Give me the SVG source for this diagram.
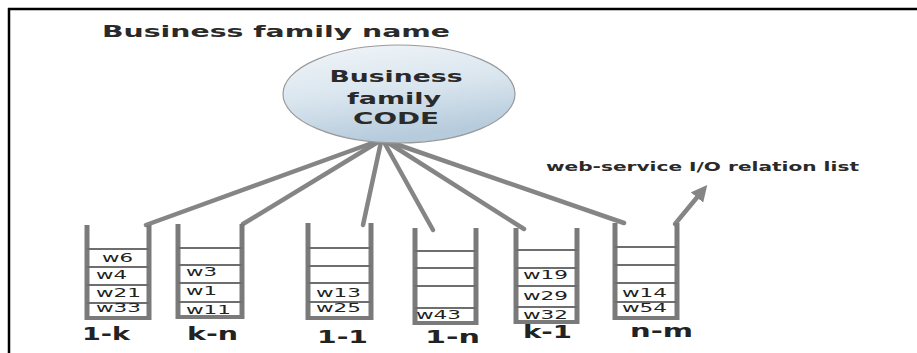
<svg xmlns="http://www.w3.org/2000/svg" width="917" height="353" viewBox="0 0 917 353">
  <style>
    .frame { stroke: #000; stroke-width: 2.5; fill: none; }
    .title { font-family: "DejaVu Sans", Verdana, sans-serif; font-weight: bold; font-size: 16.5px; fill: #2a2a2a; }
    .node-text { font-family: "DejaVu Sans", Verdana, sans-serif; font-weight: bold; font-size: 16.5px; fill: #2a2a2a; text-anchor: middle; }
    .note { font-family: "DejaVu Sans", Verdana, sans-serif; font-weight: bold; font-size: 12.5px; fill: #2a2a2a; }
    .cell { font-family: "DejaVu Sans", Verdana, sans-serif; font-size: 13px; fill: #222; }
    .kind { font-family: "DejaVu Sans", Verdana, sans-serif; font-weight: bold; font-size: 17px; fill: #222; }
    .rail { stroke: #7a7a7a; stroke-width: 5; fill: none; }
    .base { stroke: #7a7a7a; stroke-width: 4; fill: none; }
    .rung { stroke: #6e6e6e; stroke-width: 2; fill: none; }
    .link { stroke: #858585; stroke-width: 4.5; fill: none; stroke-linecap: round; }
  </style>
  <defs>
    <linearGradient id="bubble" x1="0" y1="0" x2="0.3" y2="1">
      <stop offset="0" stop-color="#f2f6f9"/>
      <stop offset="0.55" stop-color="#d9e5ee"/>
      <stop offset="1" stop-color="#b6cbdc"/>
    </linearGradient>
    <marker id="head" viewBox="0 0 10 10" refX="2" refY="5" markerWidth="3.6" markerHeight="3.6" orient="auto" markerUnits="strokeWidth">
      <path d="M0,0 L10,5 L0,10 Z" fill="#858585"/>
    </marker>
  </defs>

  <rect width="917" height="353" fill="#fff"/>

  <!-- frame: top and left edges only -->
  <line class="frame" x1="8" y1="9" x2="917" y2="9"/>
  <line class="frame" x1="9" y1="8" x2="9" y2="353"/>

  <text class="title" x="102" y="37" textLength="348" lengthAdjust="spacingAndGlyphs">Business family name</text>

  <!-- connectors from the family code to each relation list -->
  <g id="connectors">
    <line class="link" x1="375" y1="142" x2="146" y2="225"/>
    <line class="link" x1="378" y1="142" x2="243" y2="224"/>
    <line class="link" x1="381" y1="142" x2="363" y2="225"/>
    <line class="link" x1="384" y1="142" x2="433" y2="230"/>
    <line class="link" x1="387" y1="142" x2="524" y2="229"/>
    <line class="link" x1="390" y1="142" x2="624" y2="223"/>
    <line class="link" x1="675" y1="224" x2="699" y2="195" marker-end="url(#head)"/>
  </g>

  <g id="family-code">
    <ellipse cx="399" cy="94" rx="116" ry="49" fill="url(#bubble)" stroke="#9a9a9a" stroke-width="1.2"/>
    <text class="node-text" x="396" y="82" textLength="133" lengthAdjust="spacingAndGlyphs">Business</text>
    <text class="node-text" x="394" y="104" textLength="94" lengthAdjust="spacingAndGlyphs">family</text>
    <text class="node-text" x="396" y="124" textLength="86" lengthAdjust="spacingAndGlyphs">CODE</text>
  </g>

  <text class="note" x="546" y="171" textLength="313" lengthAdjust="spacingAndGlyphs">web-service I/O relation list</text>

  <!-- relation list 1-k -->
  <g id="list-1k">
    <line class="rail" x1="87" y1="225" x2="87" y2="320"/>
    <line class="rail" x1="149" y1="225" x2="149" y2="320"/>
    <line class="base" x1="85" y1="318" x2="151" y2="318"/>
    <line class="rung" x1="87" y1="249" x2="149" y2="249"/>
    <line class="rung" x1="87" y1="267" x2="149" y2="267"/>
    <line class="rung" x1="87" y1="285" x2="149" y2="285"/>
    <line class="rung" x1="87" y1="303" x2="149" y2="303"/>
    <text class="cell" x="102" y="262" textLength="31" lengthAdjust="spacingAndGlyphs">w6</text>
    <text class="cell" x="96" y="279" textLength="31" lengthAdjust="spacingAndGlyphs">w4</text>
    <text class="cell" x="96" y="297" textLength="45" lengthAdjust="spacingAndGlyphs">w21</text>
    <text class="cell" x="96" y="312" textLength="45" lengthAdjust="spacingAndGlyphs">w33</text>
    <text class="kind" x="82" y="340" textLength="48" lengthAdjust="spacingAndGlyphs">1-k</text>
  </g>

  <!-- relation list k-n -->
  <g id="list-kn">
    <line class="rail" x1="178" y1="224" x2="178" y2="319"/>
    <line class="rail" x1="242" y1="224" x2="242" y2="319"/>
    <line class="base" x1="176" y1="317" x2="244" y2="317"/>
    <line class="rung" x1="178" y1="248" x2="242" y2="248"/>
    <line class="rung" x1="178" y1="265" x2="242" y2="265"/>
    <line class="rung" x1="178" y1="283" x2="242" y2="283"/>
    <line class="rung" x1="178" y1="302" x2="242" y2="302"/>
    <text class="cell" x="186" y="276" textLength="31" lengthAdjust="spacingAndGlyphs">w3</text>
    <text class="cell" x="186" y="295" textLength="31" lengthAdjust="spacingAndGlyphs">w1</text>
    <text class="cell" x="186" y="314" textLength="45" lengthAdjust="spacingAndGlyphs">w11</text>
    <text class="kind" x="187" y="340" textLength="51" lengthAdjust="spacingAndGlyphs">k-n</text>
  </g>

  <!-- relation list 1-1 -->
  <g id="list-11">
    <line class="rail" x1="308" y1="223" x2="308" y2="320"/>
    <line class="rail" x1="371" y1="223" x2="371" y2="320"/>
    <line class="base" x1="306" y1="318" x2="373" y2="318"/>
    <line class="rung" x1="308" y1="248" x2="371" y2="248"/>
    <line class="rung" x1="308" y1="266" x2="371" y2="266"/>
    <line class="rung" x1="308" y1="283" x2="371" y2="283"/>
    <line class="rung" x1="308" y1="302" x2="371" y2="302"/>
    <text class="cell" x="316" y="297" textLength="45" lengthAdjust="spacingAndGlyphs">w13</text>
    <text class="cell" x="316" y="312" textLength="45" lengthAdjust="spacingAndGlyphs">w25</text>
    <text class="kind" x="317" y="343" textLength="51" lengthAdjust="spacingAndGlyphs">1-1</text>
  </g>

  <!-- relation list 1-n -->
  <g id="list-1n">
    <line class="rail" x1="415" y1="228" x2="415" y2="325"/>
    <line class="rail" x1="476" y1="228" x2="476" y2="325"/>
    <line class="base" x1="413" y1="323" x2="478" y2="323"/>
    <line class="rung" x1="415" y1="251" x2="476" y2="251"/>
    <line class="rung" x1="415" y1="268" x2="476" y2="268"/>
    <line class="rung" x1="415" y1="286" x2="476" y2="286"/>
    <line class="rung" x1="415" y1="308" x2="476" y2="308"/>
    <text class="cell" x="416" y="319" textLength="45" lengthAdjust="spacingAndGlyphs">w43</text>
    <text class="kind" x="425" y="343" textLength="55" lengthAdjust="spacingAndGlyphs">1-n</text>
  </g>

  <!-- relation list k-1 -->
  <g id="list-k1">
    <line class="rail" x1="516" y1="228" x2="516" y2="324"/>
    <line class="rail" x1="577" y1="228" x2="577" y2="324"/>
    <line class="base" x1="514" y1="322" x2="579" y2="322"/>
    <line class="rung" x1="516" y1="250" x2="577" y2="250"/>
    <line class="rung" x1="516" y1="268" x2="577" y2="268"/>
    <line class="rung" x1="516" y1="286" x2="577" y2="286"/>
    <line class="rung" x1="516" y1="307" x2="577" y2="307"/>
    <text class="cell" x="523" y="279" textLength="45" lengthAdjust="spacingAndGlyphs">w19</text>
    <text class="cell" x="523" y="300" textLength="45" lengthAdjust="spacingAndGlyphs">w29</text>
    <text class="cell" x="523" y="319" textLength="45" lengthAdjust="spacingAndGlyphs">w32</text>
    <text class="kind" x="523" y="338" textLength="49" lengthAdjust="spacingAndGlyphs">k-1</text>
  </g>

  <!-- relation list n-m -->
  <g id="list-nm">
    <line class="rail" x1="615" y1="223" x2="615" y2="320"/>
    <line class="rail" x1="677" y1="223" x2="677" y2="320"/>
    <line class="base" x1="613" y1="318" x2="679" y2="318"/>
    <line class="rung" x1="615" y1="247" x2="677" y2="247"/>
    <line class="rung" x1="615" y1="265" x2="677" y2="265"/>
    <line class="rung" x1="615" y1="283" x2="677" y2="283"/>
    <line class="rung" x1="615" y1="302" x2="677" y2="302"/>
    <text class="cell" x="622" y="297" textLength="45" lengthAdjust="spacingAndGlyphs">w14</text>
    <text class="cell" x="622" y="312" textLength="45" lengthAdjust="spacingAndGlyphs">w54</text>
    <text class="kind" x="630" y="337" textLength="63" lengthAdjust="spacingAndGlyphs">n-m</text>
  </g>
</svg>
